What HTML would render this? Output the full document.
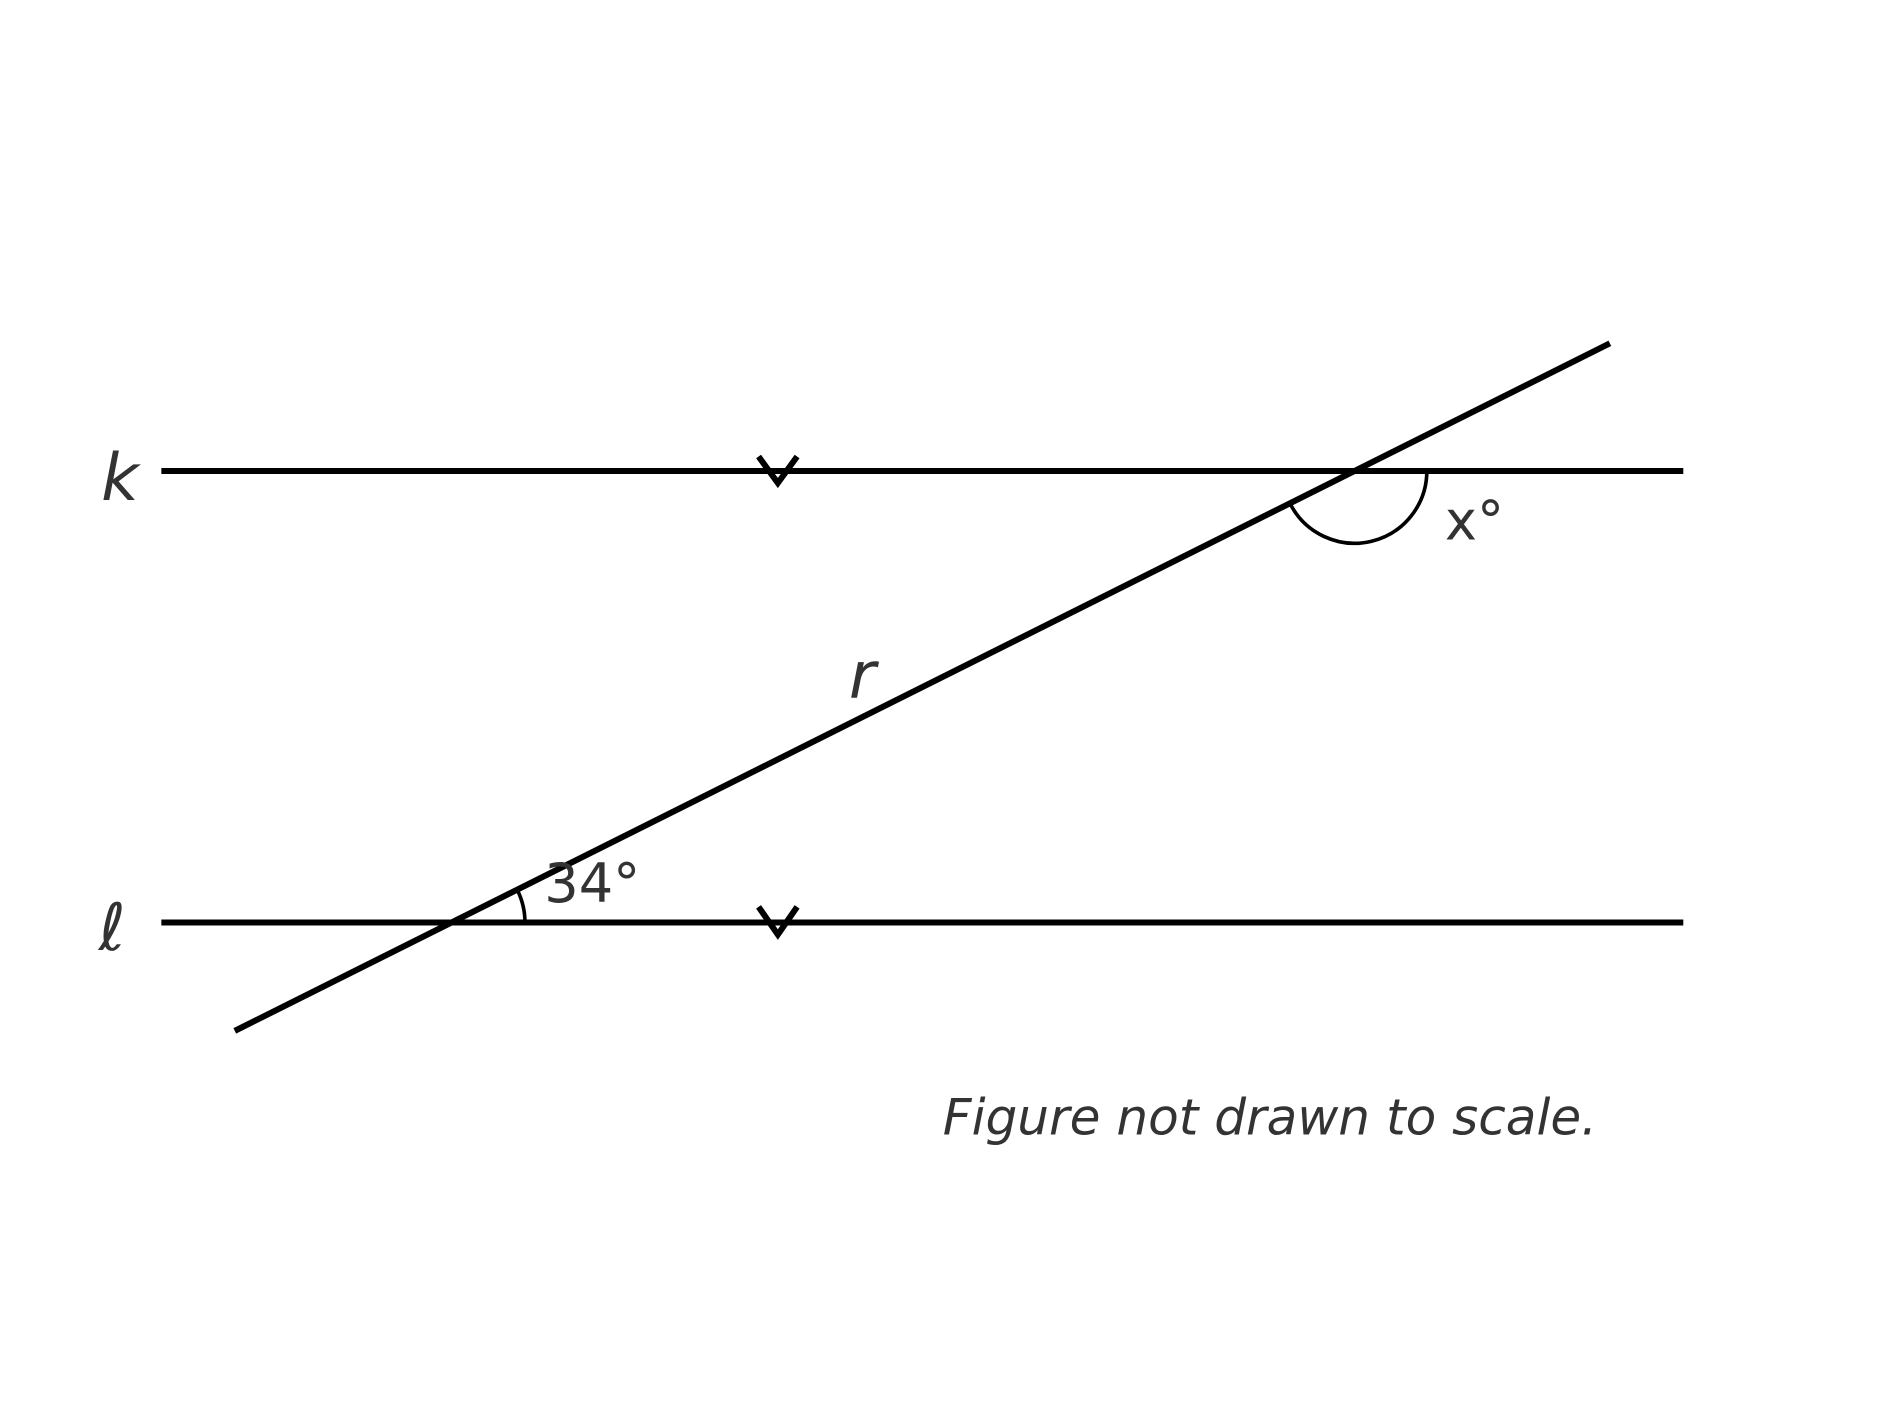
<!DOCTYPE html>
<html><head><meta charset="utf-8"><style>html,body{margin:0;padding:0;background:#fff}svg{display:block}</style></head>
<body>
<svg width="1888" height="1426" viewBox="0 0 1568 1184" xmlns="http://www.w3.org/2000/svg">
<rect width="1568" height="1184" fill="#fff"/>
<g stroke="#000" stroke-width="5" fill="none">
<line x1="134" y1="391" x2="1398" y2="391"/>
<line x1="134" y1="766" x2="1398" y2="766"/>
<line x1="195" y1="856" x2="1337" y2="285"/>
<polyline points="630,379 646,401 662,379"/>
<polyline points="630,753 646,776 662,753"/>
</g>
<g stroke="#000" stroke-width="3" fill="none">
<path d="M1185,391 A60,60 0 0 1 1071.3,417.8"/>
<path d="M436,766 A61,61 0 0 0 429.5,738.7"/>
</g>
<g fill="#333" font-family="DejaVu Sans, Liberation Sans, sans-serif">
<text x="84" y="415" font-size="54" font-style="italic">k</text>
<text x="82" y="789" font-size="54" font-style="italic">ℓ</text>
<text x="705" y="579" font-size="54" font-style="italic">r</text>
<text x="1200" y="448" font-size="45">x°</text>
<text x="452" y="749" font-size="45">34°</text>
<text x="783" y="942" font-size="41.6" font-style="italic">Figure not drawn to scale.</text>
</g>
</svg>
</body></html>
